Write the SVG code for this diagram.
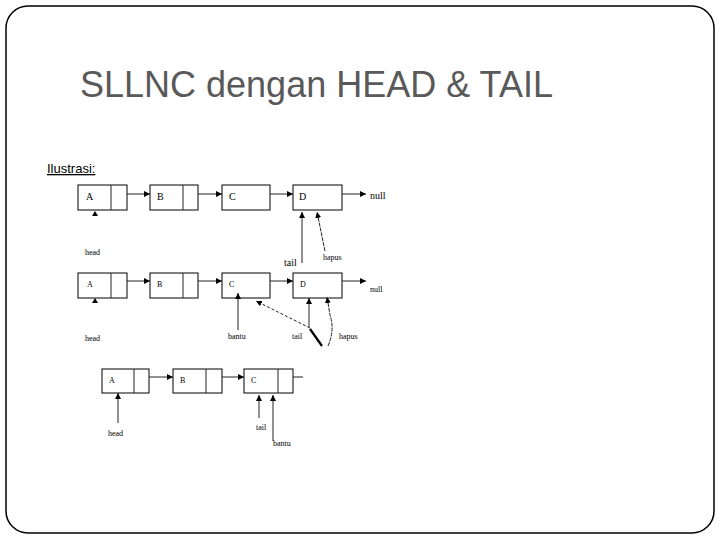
<svg xmlns="http://www.w3.org/2000/svg" width="720" height="540" viewBox="0 0 720 540">
<style>
.box{fill:#fff;stroke:#000;stroke-width:1}
.ln{fill:none;stroke:#222;stroke-width:1}
.lbl{font-family:"Liberation Serif",serif;font-size:10px;fill:#000}
.sm{font-family:"Liberation Serif",serif;font-size:8px;fill:#000}
</style>
<defs>
<marker id="ah" viewBox="0 0 10 10" refX="10" refY="5" markerWidth="6" markerHeight="6" orient="auto" markerUnits="userSpaceOnUse"><path d="M0,0 L10,5 L0,10 z" fill="#000"/></marker>
</defs>
<rect x="0" y="0" width="720" height="540" fill="#fff"/>
<rect x="6" y="6" width="708" height="527" rx="22" ry="22" fill="none" stroke="#000" stroke-width="1.5"/>
<text x="80" y="97" font-family="Liberation Sans,Arial,sans-serif" font-size="36" fill="#595959">SLLNC dengan HEAD &amp; TAIL</text>
<text x="47" y="173" font-family="Liberation Sans,Arial,sans-serif" font-size="13" fill="#000" text-decoration="underline">Ilustrasi:</text>

<g id="row1">
<g id="r1A"><rect class="box" x="78" y="185" width="49" height="25"/><line class="ln" x1="111" y1="185" x2="111" y2="210"/><text class="lbl" x="86" y="200">A</text></g>
<g id="r1B"><rect class="box" x="150" y="185" width="48" height="25"/><line class="ln" x1="183" y1="185" x2="183" y2="210"/><text class="lbl" x="157" y="200">B</text></g>
<g id="r1C"><rect class="box" x="222" y="185" width="48" height="25"/><text class="lbl" x="229" y="200">C</text></g>
<g id="r1D"><rect class="box" x="293" y="185" width="49" height="25"/><text class="lbl" x="299" y="200">D</text></g>
<text class="lbl" x="370" y="199">null</text>
<text class="sm" x="85" y="255">head</text>
<text class="lbl" x="284" y="266">tail</text>
<text class="sm" x="323" y="260">hapus</text>
</g>

<g id="row2">
<g id="r2A"><rect class="box" x="78" y="273" width="49" height="25"/><line class="ln" x1="111" y1="273" x2="111" y2="298"/><text class="sm" x="87" y="287">A</text></g>
<g id="r2B"><rect class="box" x="150" y="273" width="48" height="25"/><line class="ln" x1="183" y1="273" x2="183" y2="298"/><text class="sm" x="157" y="287">B</text></g>
<g id="r2C"><rect class="box" x="222" y="273" width="48" height="25"/><text class="sm" x="229" y="287">C</text></g>
<g id="r2D"><rect class="box" x="293" y="273" width="49" height="25"/><text class="sm" x="300" y="287">D</text></g>
<text class="sm" x="370" y="292">null</text>
<text class="sm" x="85" y="341">head</text>
<text class="sm" x="228" y="339">bantu</text>
<text class="sm" x="292" y="339">tail</text>
<text class="sm" x="339" y="339">hapus</text>
</g>

<g id="row3">
<g id="r3A"><rect class="box" x="102" y="369" width="47" height="24"/><line class="ln" x1="134" y1="369" x2="134" y2="393"/><text class="sm" x="109" y="383">A</text></g>
<g id="r3B"><rect class="box" x="173" y="369" width="49" height="24"/><line class="ln" x1="206" y1="369" x2="206" y2="393"/><text class="sm" x="180" y="383">B</text></g>
<g id="r3C"><rect class="box" x="244" y="369" width="49" height="24"/><line class="ln" x1="278" y1="369" x2="278" y2="393"/><text class="sm" x="251" y="383">C</text></g>
<text class="sm" x="108" y="436">head</text>
<text class="sm" x="256" y="430">tail</text>
<text class="sm" x="273" y="446">bantu</text>
</g>

<g id="connectors">
<line class="ln" x1="127" y1="194" x2="150" y2="194" marker-end="url(#ah)"/>
<line class="ln" x1="198" y1="194" x2="222" y2="194" marker-end="url(#ah)"/>
<line class="ln" x1="270" y1="194" x2="293" y2="194" marker-end="url(#ah)"/>
<line class="ln" x1="342" y1="194" x2="366" y2="194" marker-end="url(#ah)"/>
<path d="M92,216 L95,211 L98,216 z" fill="#000"/>
<line class="ln" x1="302" y1="263" x2="302" y2="212" stroke="#777" marker-end="url(#ah)"/>
<line class="ln" x1="325" y1="251" x2="317" y2="212" stroke-dasharray="4,1" marker-end="url(#ah)"/>

<line class="ln" x1="127" y1="281" x2="150" y2="281" marker-end="url(#ah)"/>
<line class="ln" x1="198" y1="281" x2="222" y2="281" marker-end="url(#ah)"/>
<line class="ln" x1="270" y1="281" x2="293" y2="281" marker-end="url(#ah)"/>
<line class="ln" x1="342" y1="281" x2="366" y2="281" marker-end="url(#ah)"/>
<path d="M92,303 L95,298 L98,303 z" fill="#000"/>
<line class="ln" x1="238" y1="330" x2="238" y2="293" marker-end="url(#ah)"/>
<line class="ln" x1="310" y1="328" x2="256" y2="301" stroke-dasharray="3,2" marker-end="url(#ah)"/>
<line class="ln" x1="309" y1="327" x2="309" y2="298" marker-end="url(#ah)"/>
<line x1="310" y1="329" x2="322" y2="346" stroke="#000" stroke-width="2.2"/>
<path class="ln" d="M328,346 Q335,330 330,315 L327,297" stroke-dasharray="4,1" marker-end="url(#ah)"/>

<line class="ln" x1="149" y1="377" x2="173" y2="377" marker-end="url(#ah)"/>
<line class="ln" x1="222" y1="377" x2="244" y2="377" marker-end="url(#ah)"/>
<line class="ln" x1="293" y1="377" x2="303" y2="377"/>
<line class="ln" x1="118" y1="423" x2="118" y2="393" marker-end="url(#ah)"/>
<line class="ln" x1="259" y1="418" x2="259" y2="395" marker-end="url(#ah)"/>
<line class="ln" x1="273" y1="441" x2="273" y2="395" marker-end="url(#ah)"/>
</g>
</svg>
